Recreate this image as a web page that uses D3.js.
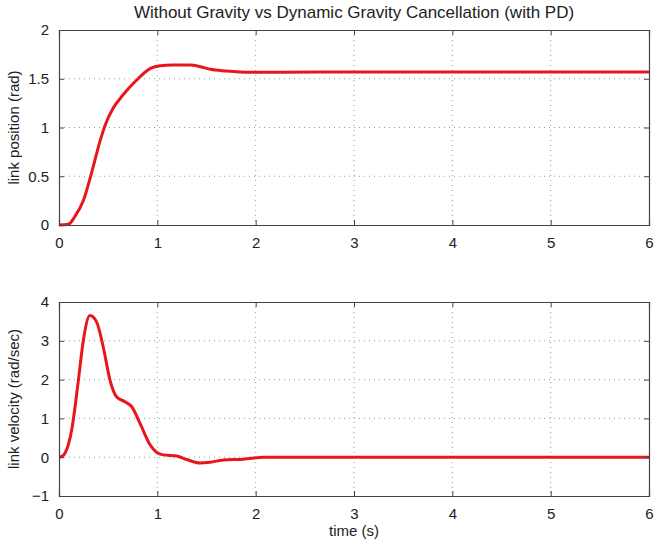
<!DOCTYPE html>
<html>
<head>
<meta charset="utf-8">
<script src="https://cdn.jsdelivr.net/npm/d3@7"></script>
<style>
  body { margin: 0; background: #fff; }
  text { font-family: "Liberation Sans", Arial, sans-serif; fill: #222; }
</style>
</head>
<body>
<div id="chart"></div>
<script>
// time axis ticks (s)
var timeTicks = [0, 1, 2, 3, 4, 5, 6];
var posTicks = [0, 0.5, 1, 1.5, 2];
var velTicks = [-1, 0, 1, 2, 3, 4];

// link position (rad)
var posTime = [0, 0.05, 0.1, 0.16, 0.25, 0.33, 0.42, 0.47, 0.55, 0.65, 0.79, 0.93, 1.03, 1.15, 1.33, 1.45, 1.54, 1.7, 1.94, 2.3, 3, 4, 5, 6];
var posVal  = [0, 0.002, 0.01, 0.085, 0.256, 0.53, 0.87, 1.026, 1.197, 1.333, 1.487, 1.607, 1.634, 1.64, 1.64, 1.62, 1.597, 1.58, 1.566, 1.566, 1.57, 1.57, 1.57, 1.57];

// link velocity (rad/sec)
var velTime = [0, 0.03, 0.061, 0.129, 0.197, 0.247, 0.315, 0.383, 0.45, 0.519, 0.587, 0.671, 0.74, 0.824, 0.926, 0.994, 1.06, 1.197, 1.3, 1.434, 1.536, 1.67, 1.875, 2.08, 2.5, 3, 4, 5, 6];
var velVal  = [0, 0.02, 0.1, 0.7, 1.98, 3.0, 3.65, 3.48, 2.84, 1.98, 1.55, 1.43, 1.3, 0.87, 0.32, 0.12, 0.06, 0.03, -0.06, -0.15, -0.13, -0.07, -0.05, 0.0, 0.0, 0.0, 0.0, 0.0, 0.0];

var width = 655, height = 542;
var left = 59, right = 649;

var svg = d3.select("#chart")
    .append("svg")
    .attr("width", width)
    .attr("height", height);

svg.append("text")
    .attr("x", (left + right) / 2)
    .attr("y", 18)
    .attr("text-anchor", "middle")
    .attr("font-size", "17px")
    .text("Without Gravity vs Dynamic Gravity Cancellation (with PD)");

var x = d3.scaleLinear().domain([0, 6]).range([left, right]);

function panel(top, bottom, yDomain, yTicks, yFormat, ts, vs, label, xTitle) {
    var y = d3.scaleLinear().domain(yDomain).range([bottom, top]);
    var g = svg.append("g");

    // dotted grid
    g.selectAll(".gx")
        .data(timeTicks.slice(1, -1))
        .enter().append("line")
        .attr("x1", function (d) { return x(d); })
        .attr("x2", function (d) { return x(d); })
        .attr("y1", top).attr("y2", bottom)
        .attr("stroke", "#9a9a9a")
        .attr("stroke-width", 1)
        .attr("stroke-dasharray", "1,4");
    g.selectAll(".gy")
        .data(yTicks.slice(1, -1))
        .enter().append("line")
        .attr("y1", function (d) { return y(d); })
        .attr("y2", function (d) { return y(d); })
        .attr("x1", left).attr("x2", right)
        .attr("stroke", "#9a9a9a")
        .attr("stroke-width", 1)
        .attr("stroke-dasharray", "1,4");

    // curve
    var line = d3.line()
        .x(function (d, i) { return x(ts[i]); })
        .y(function (d) { return y(d); })
        .curve(d3.curveMonotoneX);
    g.append("path")
        .datum(vs)
        .attr("d", line)
        .attr("fill", "none")
        .attr("stroke", "#e8161c")
        .attr("stroke-width", 3)
        .attr("stroke-linejoin", "round");

    // axes (ticks pointing in)
    var axB = g.append("g").attr("transform", "translate(0," + bottom + ")")
        .call(d3.axisBottom(x).tickValues(timeTicks).tickSize(-5).tickPadding(12).tickFormat(d3.format("d")));
    var axT = g.append("g").attr("transform", "translate(0," + top + ")")
        .call(d3.axisTop(x).tickValues(timeTicks).tickSize(-5).tickFormat(""));
    var axL = g.append("g").attr("transform", "translate(" + left + ",0)")
        .call(d3.axisLeft(y).tickValues(yTicks).tickSize(-5).tickPadding(10).tickFormat(yFormat));
    var axR = g.append("g").attr("transform", "translate(" + right + ",0)")
        .call(d3.axisRight(y).tickValues(yTicks).tickSize(-5).tickFormat(""));
    [axB, axT, axL, axR].forEach(function (a) {
        a.selectAll("path").attr("stroke", "#444").attr("stroke-width", 1.2);
        a.selectAll("line").attr("stroke", "#444");
        a.selectAll("text").attr("font-size", "15px").attr("fill", "#222")
            .attr("font-family", "Liberation Sans, Arial, sans-serif");
    });

    svg.append("text")
        .attr("transform", "translate(19," + (top + bottom) / 2 + ") rotate(-90)")
        .attr("text-anchor", "middle")
        .attr("font-size", "15px")
        .text(label);

    if (xTitle) {
        svg.append("text")
            .attr("x", (left + right) / 2)
            .attr("y", bottom + 40)
            .attr("text-anchor", "middle")
            .attr("font-size", "15px")
            .text(xTitle);
    }
}

panel(30, 225, [0, 2], posTicks, function (d) { return d3.format("")(d); },
      posTime, posVal, "link position (rad)", null);
panel(302, 496, [-1, 4], velTicks, function (d) { return d < 0 ? "\u2212" + Math.abs(d) : d; },
      velTime, velVal, "link velocity (rad/sec)", "time (s)");
</script>
</body>
</html>
